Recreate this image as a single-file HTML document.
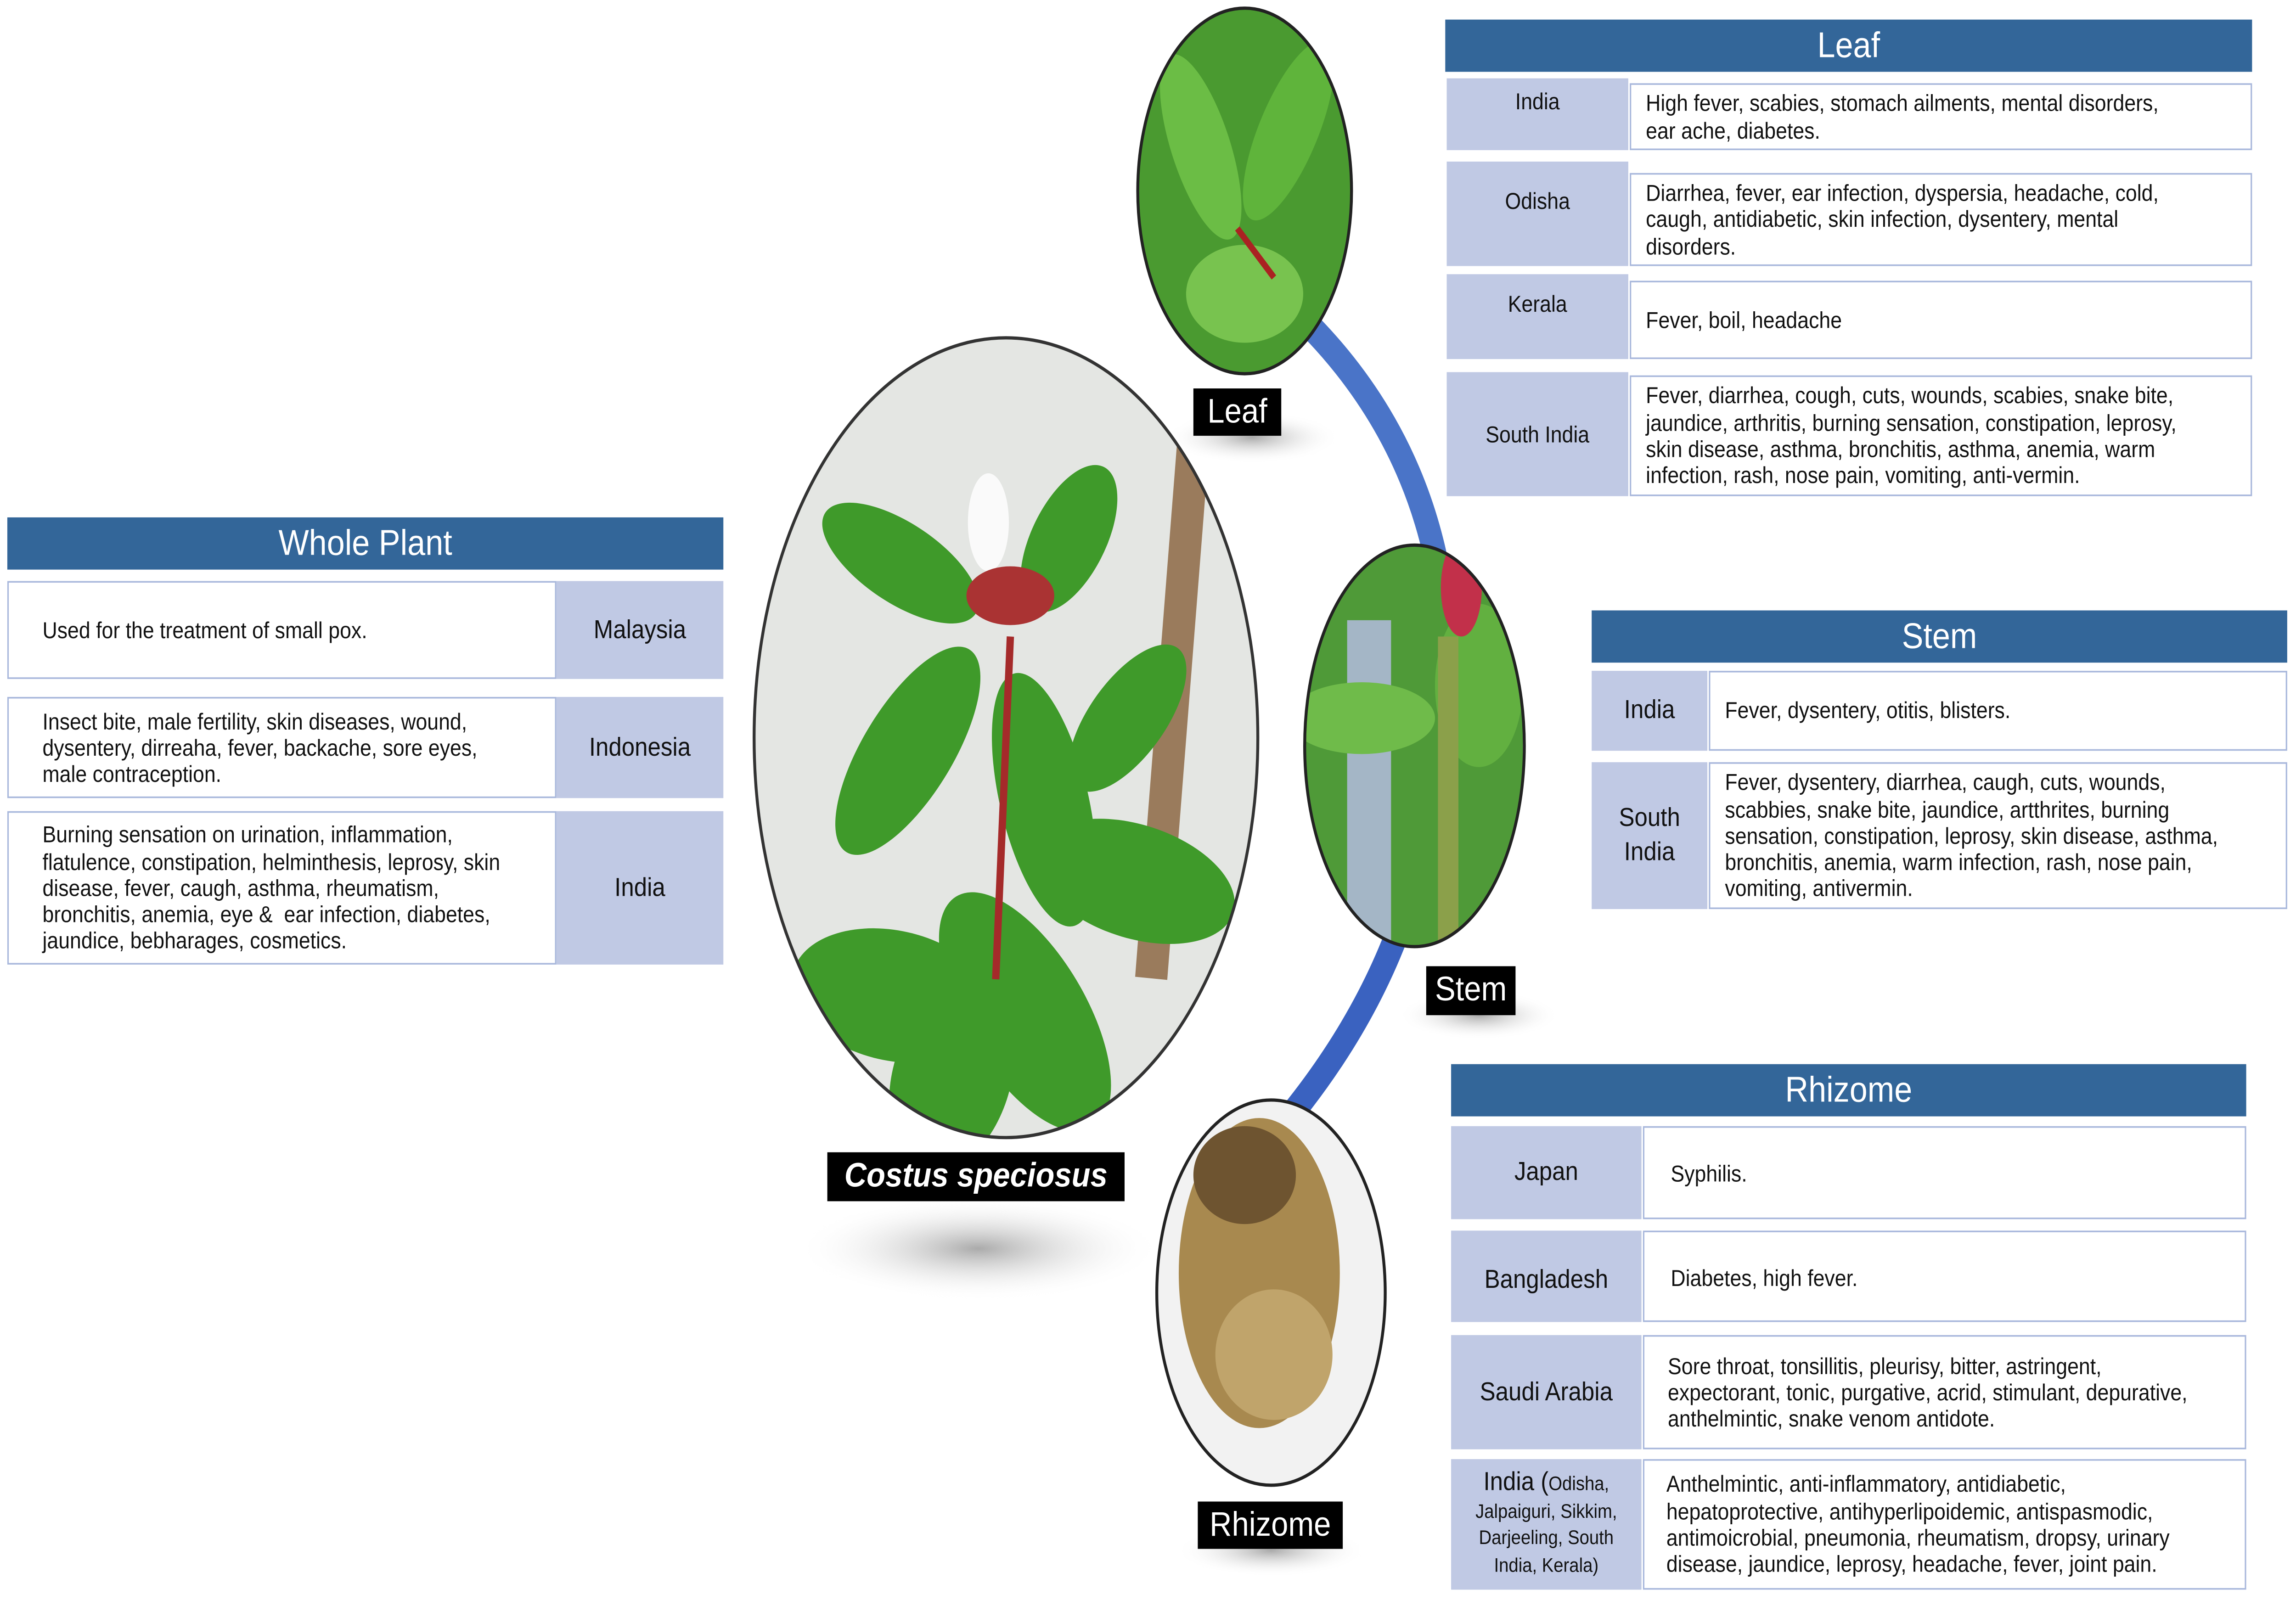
<!DOCTYPE html>
<html><head><meta charset="utf-8"><style>
html,body{margin:0;padding:0;background:#fff;width:100vw;height:100vh;overflow:hidden}
#w{position:absolute;left:0;top:0;width:1568px;height:984px;transform-origin:0 0;font-family:"Liberation Sans",sans-serif;color:#111}
.a{position:absolute;box-sizing:border-box}
.h{background:#336699;color:#fff;font-size:22px;text-align:center;line-height:32px}
.l{background:#c0c9e4;font-size:14px;text-align:center;display:flex;align-items:center;justify-content:center;line-height:17px}
.t{border:1px solid #a9b8dc;background:#fff;font-size:14px;line-height:16.3px;padding:0 10px;display:flex;align-items:center}
.lab{background:#000;color:#fff;font-size:21px;text-align:center}
</style></head><body><div id="w">
<svg class="a" style="left:0;top:0" width="1568" height="984" viewBox="0 0 1568 984">
<defs>
<radialGradient id="sh"><stop offset="0" stop-color="#aaa"/><stop offset="1" stop-color="#fff" stop-opacity="0"/></radialGradient>
<clipPath id="c1"><ellipse cx="687" cy="452" rx="172" ry="245"/></clipPath>
<clipPath id="c2"><ellipse cx="850" cy="117" rx="73" ry="112"/></clipPath>
<clipPath id="c3"><ellipse cx="966" cy="457" rx="75" ry="123"/></clipPath>
<clipPath id="c4"><ellipse cx="868" cy="792" rx="78" ry="118"/></clipPath>
</defs>
<ellipse cx="668" cy="765" rx="125" ry="32" fill="url(#sh)"/>
<ellipse cx="855" cy="268" rx="60" ry="16" fill="url(#sh)"/>
<ellipse cx="1010" cy="622" rx="55" ry="15" fill="url(#sh)"/>
<ellipse cx="868" cy="950" rx="65" ry="16" fill="url(#sh)"/>
<path d="M895 200 Q960 260 980 340" stroke="#4a74c8" stroke-width="16" fill="none"/>
<path d="M955 570 Q930 630 880 685" stroke="#3a62c0" stroke-width="16" fill="none"/>
<g clip-path="url(#c1)">
<rect x="510" y="200" width="360" height="500" fill="#e4e6e3"/>
<rect x="790" y="270" width="22" height="330" fill="#9a7b5c" transform="rotate(5 800 430)"/>
<g fill="#3f9a2a">
<ellipse cx="615" cy="345" rx="60" ry="25" transform="rotate(30 615 345)"/>
<ellipse cx="620" cy="460" rx="30" ry="75" transform="rotate(35 620 460)"/>
<ellipse cx="713" cy="490" rx="30" ry="80" transform="rotate(-15 713 490)"/>
<ellipse cx="775" cy="540" rx="70" ry="35" transform="rotate(15 775 540)"/>
<ellipse cx="610" cy="610" rx="70" ry="40" transform="rotate(10 610 610)"/>
<ellipse cx="700" cy="620" rx="40" ry="85" transform="rotate(-35 700 620)"/>
<ellipse cx="650" cy="660" rx="40" ry="60" transform="rotate(20 650 660)"/>
<ellipse cx="730" cy="330" rx="25" ry="50" transform="rotate(30 730 330)"/>
<ellipse cx="770" cy="440" rx="25" ry="55" transform="rotate(40 770 440)"/>
</g>
<path d="M690 390 L680 600" stroke="#a52a2a" stroke-width="5"/>
<ellipse cx="675" cy="320" rx="14" ry="30" fill="#fafafa"/>
<ellipse cx="690" cy="365" rx="30" ry="18" fill="#a33"/>
</g>
<ellipse cx="687" cy="452" rx="172" ry="245" fill="none" stroke="#333" stroke-width="2"/>
<g clip-path="url(#c2)">
<rect x="770" y="0" width="160" height="240" fill="#4a9a30"/>
<ellipse cx="820" cy="90" rx="20" ry="60" fill="#6bbd45" transform="rotate(-20 820 90)"/>
<ellipse cx="880" cy="80" rx="20" ry="60" fill="#5fb43b" transform="rotate(25 880 80)"/>
<ellipse cx="850" cy="180" rx="40" ry="30" fill="#78c34f"/>
<path d="M845 140 L870 170" stroke="#a22" stroke-width="4"/>
</g>
<ellipse cx="850" cy="117" rx="73" ry="112" fill="none" stroke="#222" stroke-width="2"/>
<g clip-path="url(#c3)">
<rect x="890" y="330" width="150" height="260" fill="#4f9a38"/>
<rect x="920" y="380" width="30" height="200" fill="#a4b6c6"/>
<ellipse cx="930" cy="440" rx="50" ry="22" fill="#6fbb4a"/>
<ellipse cx="1010" cy="420" rx="30" ry="50" fill="#62b040"/>
<rect x="982" y="390" width="14" height="190" fill="#8ba04a"/>
<ellipse cx="998" cy="360" rx="14" ry="30" fill="#c2304a"/>
</g>
<ellipse cx="966" cy="457" rx="75" ry="123" fill="none" stroke="#222" stroke-width="2"/>
<g clip-path="url(#c4)">
<rect x="785" y="670" width="170" height="250" fill="#f2f2f2"/>
<ellipse cx="860" cy="780" rx="55" ry="95" fill="#a8894f"/>
<ellipse cx="850" cy="720" rx="35" ry="30" fill="#6e5430"/>
<ellipse cx="870" cy="830" rx="40" ry="40" fill="#c0a46b"/>
</g>
<ellipse cx="868" cy="792" rx="78" ry="118" fill="none" stroke="#222" stroke-width="2"/>
</svg>
<div class="a lab" style="left:815px;top:238px;width:60px;height:29px;line-height:29px">Leaf</div>
<div class="a lab" style="left:974px;top:592px;width:61px;height:30px;line-height:30px">Stem</div>
<div class="a lab" style="left:818px;top:920px;width:99px;height:29px;line-height:29px">Rhizome</div>
<div class="a lab" style="left:565px;top:706px;width:203px;height:30px;line-height:30px;font-weight:bold;font-style:italic">Costus speciosus</div>

<div class="a h" style="left:987px;top:12px;width:551px;height:32px">Leaf</div>
<div class="a l" style="left:988px;top:48px;width:124px;height:44px;align-items:flex-start;padding-top:6px">India</div>
<div class="a t" style="left:1113px;top:51px;width:425px;height:41px">High fever, scabies, stomach ailments, mental disorders,<br>ear ache, diabetes.</div>
<div class="a l" style="left:988px;top:99px;width:124px;height:64px;align-items:flex-start;padding-top:16px">Odisha</div>
<div class="a t" style="left:1113px;top:106px;width:425px;height:57px">Diarrhea, fever, ear infection, dyspersia, headache, cold,<br>caugh, antidiabetic, skin infection, dysentery, mental<br>disorders.</div>
<div class="a l" style="left:988px;top:168px;width:124px;height:52px;align-items:flex-start;padding-top:10px">Kerala</div>
<div class="a t" style="left:1113px;top:172px;width:425px;height:48px">Fever, boil, headache</div>
<div class="a l" style="left:988px;top:228px;width:124px;height:76px">South India</div>
<div class="a t" style="left:1113px;top:230px;width:425px;height:74px">Fever, diarrhea, cough, cuts, wounds, scabies, snake bite,<br>jaundice, arthritis, burning sensation, constipation, leprosy,<br>skin disease, asthma, bronchitis, asthma, anemia, warm<br>infection, rash, nose pain, vomiting, anti-vermin.</div>

<div class="a h" style="left:1087px;top:374px;width:475px;height:32px">Stem</div>
<div class="a l" style="left:1087px;top:411px;width:79px;height:49px;font-size:16px">India</div>
<div class="a t" style="left:1167px;top:411px;width:395px;height:49px">Fever, dysentery, otitis, blisters.</div>
<div class="a l" style="left:1087px;top:467px;width:79px;height:90px;font-size:16px;line-height:21px">South<br>India</div>
<div class="a t" style="left:1167px;top:467px;width:395px;height:90px">Fever, dysentery, diarrhea, caugh, cuts, wounds,<br>scabbies, snake bite, jaundice, artthrites, burning<br>sensation, constipation, leprosy, skin disease, asthma,<br>bronchitis, anemia, warm infection, rash, nose pain,<br>vomiting, antivermin.</div>

<div class="a h" style="left:991px;top:652px;width:543px;height:32px">Rhizome</div>
<div class="a l" style="left:991px;top:690px;width:130px;height:57px;font-size:16px">Japan</div>
<div class="a t" style="left:1122px;top:690px;width:412px;height:57px;padding-left:18px;align-items:flex-start;padding-top:20px">Syphilis.</div>
<div class="a l" style="left:991px;top:754px;width:130px;height:56px;font-size:16px;padding-top:4px">Bangladesh</div>
<div class="a t" style="left:1122px;top:754px;width:412px;height:56px;padding-left:18px;align-items:flex-start;padding-top:20px">Diabetes, high fever.</div>
<div class="a l" style="left:991px;top:818px;width:130px;height:70px;font-size:16px">Saudi Arabia</div>
<div class="a t" style="left:1122px;top:818px;width:412px;height:70px;padding-left:16px">Sore throat, tonsillitis, pleurisy, bitter, astringent,<br>expectorant, tonic, purgative, acrid, stimulant, depurative,<br>anthelmintic, snake venom antidote.</div>
<div class="a l" style="left:991px;top:894px;width:130px;height:80px;font-size:12px;line-height:16.5px"><div><span style="font-size:16px">India (</span>Odisha,<br>Jalpaiguri, Sikkim,<br>Darjeeling, South<br>India, Kerala)</div></div>
<div class="a t" style="left:1122px;top:894px;width:412px;height:80px;padding-left:15px">Anthelmintic, anti-inflammatory, antidiabetic,<br>hepatoprotective, antihyperlipoidemic, antispasmodic,<br>antimoicrobial, pneumonia, rheumatism, dropsy, urinary<br>disease, jaundice, leprosy, headache, fever, joint pain.</div>

<div class="a h" style="left:5px;top:317px;width:489px;height:32px">Whole Plant</div>
<div class="a t" style="left:5px;top:356px;width:375px;height:60px;padding-left:23px">Used for the treatment of small pox.</div>
<div class="a l" style="left:380px;top:356px;width:114px;height:60px;font-size:16px">Malaysia</div>
<div class="a t" style="left:5px;top:427px;width:375px;height:62px;padding-left:23px">Insect bite, male fertility, skin diseases, wound,<br>dysentery, dirreaha, fever, backache, sore eyes,<br>male contraception.</div>
<div class="a l" style="left:380px;top:427px;width:114px;height:62px;font-size:16px">Indonesia</div>
<div class="a t" style="left:5px;top:497px;width:375px;height:94px;padding-left:23px">Burning sensation on urination, inflammation,<br>flatulence, constipation, helminthesis, leprosy, skin<br>disease, fever, caugh, asthma, rheumatism,<br>bronchitis, anemia, eye &amp;&nbsp; ear infection, diabetes,<br>jaundice, bebharages, cosmetics.</div>
<div class="a l" style="left:380px;top:497px;width:114px;height:94px;font-size:16px">India</div>
</div>
<script>
(function(){var w=window.innerWidth||document.documentElement.clientWidth||5572,h=window.innerHeight||document.documentElement.clientHeight||3498;
document.getElementById('w').style.transform='scale('+(w/1568)+','+(h/984)+')';})();
</script>
</body></html>
